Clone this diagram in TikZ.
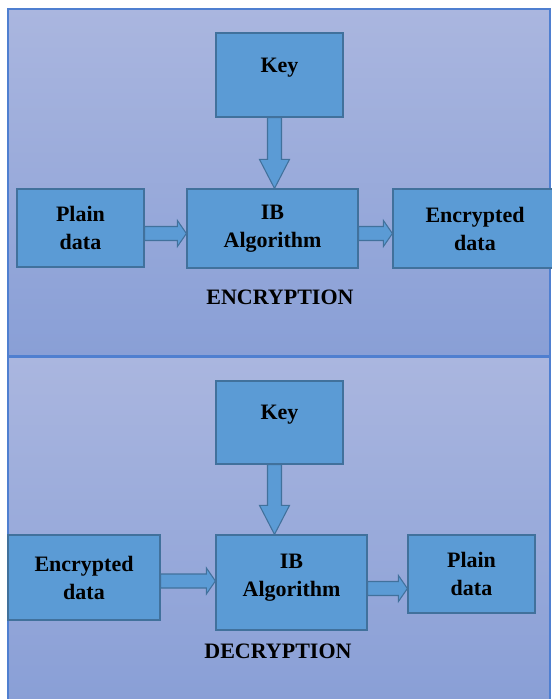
\documentclass[tikz,border=0pt]{standalone}
\usepackage{fontspec}
\setmainfont{Liberation Serif}
\usepackage{tikz}
\usetikzlibrary{calc}

\definecolor{boxfill}{RGB}{91,155,213}
\definecolor{boxline}{RGB}{65,113,156}
\definecolor{paneltop}{RGB}{170,182,223}
\definecolor{panelbot}{RGB}{137,159,214}
\definecolor{panelline}{RGB}{79,127,208}

\begin{document}
\begin{tikzpicture}[x=0.75pt, y=-0.75pt,
	box/.style={draw=boxline, fill=boxfill, line width=0.9pt, align=center,
		font=\fontsize{16.5}{21}\selectfont\bfseries},
	panel/.style={draw=panelline, line width=1.5pt, top color=paneltop, bottom color=panelbot},
	caption/.style={font=\fontsize{16.5}{21}\selectfont\bfseries},
	blkarrow/.style={draw=boxline, fill=boxfill, line width=0.8pt},
	vblk/.style={blkarrow, to path={
		($(\tikztostart.south)+(-12,0)$) --
		($(\tikztotarget.north -| \tikztostart.south)+(-12,-29)$) --
		($(\tikztotarget.north -| \tikztostart.south)+(-20,-29)$) --
		($(\tikztotarget.north -| \tikztostart.south)+(-5,0)$) --
		($(\tikztotarget.north -| \tikztostart.south)+(10,-29)$) --
		($(\tikztotarget.north -| \tikztostart.south)+(2,-29)$) --
		($(\tikztostart.south)+(2,0)$) -- cycle}},
	hblk/.style={blkarrow, to path={
		($(\tikztostart.east)+(0,#1-7)$) --
		($(\tikztotarget.west |- \tikztostart.east)+(-9,#1-7)$) --
		($(\tikztotarget.west |- \tikztostart.east)+(-9,#1-13)$) --
		($(\tikztotarget.west |- \tikztostart.east)+(0,#1)$) --
		($(\tikztotarget.west |- \tikztostart.east)+(-9,#1+13)$) --
		($(\tikztotarget.west |- \tikztostart.east)+(-9,#1+7)$) --
		($(\tikztostart.east)+(0,#1+7)$) -- cycle}},
	hblk/.default=5]
	\useasboundingbox (0,0) rectangle (551,699);

	% encryption
	\draw [panel] (8,9.5) rectangle (550,356);
	\node [box, minimum width=95.25pt, minimum height=63pt] (key1) at (279.5,75) {Key\\[-6pt]\mbox{}};
	\node [box, minimum width=95.25pt, minimum height=58.5pt] (plain1) at (80.5,228) {Plain\\data};
	\node [box, minimum width=128.25pt, minimum height=59.25pt] (ib1) at (272.5,228.5) {IB\\Algorithm};
	\node [box, minimum width=123pt, minimum height=59.25pt] (enc1) at (475,228.5) {Encrypted\\data};
	\node [caption] (encl) at (280,297) {ENCRYPTION};

	\draw [vblk] (key1) to (ib1);
	\draw [hblk=5.5] (plain1) to (ib1);
	\draw [hblk=5] (ib1) to (enc1);

	% decryption
	\draw [panel] (8,357) rectangle (550,702);
	\node [box, minimum width=95.25pt, minimum height=62.25pt] (key2) at (279.5,422.5) {Key\\[-5pt]\mbox{}};
	\node [box, minimum width=114pt, minimum height=63.75pt] (enc2) at (84,577.5) {Encrypted\\data};
	\node [box, minimum width=113.25pt, minimum height=71.25pt] (ib2) at (291.5,582.5) {IB\\Algorithm\\[-9.8pt]\mbox{}};
	\node [box, minimum width=95.25pt, minimum height=58.5pt] (plain2) at (471.5,574) {Plain\\data};
	\node [caption] (decl) at (278,651) {DECRYPTION};

	\draw [vblk] (key2) to (ib2);
	\draw [hblk=3.5] (enc2) to (ib2);
	\draw [hblk=6] (ib2) to (plain2);
\end{tikzpicture}
\end{document}
